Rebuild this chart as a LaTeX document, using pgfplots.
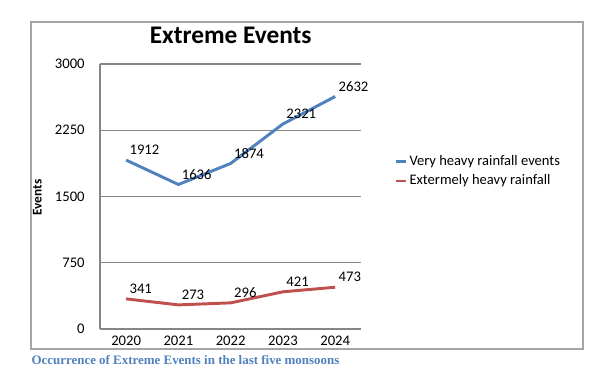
\documentclass[border=0pt]{standalone}
\usepackage{pgfplots}
\pgfplotsset{compat=1.18}
\usepackage{fontspec}
\setmainfont{Carlito}
\newfontfamily\capfont{Liberation Serif}
\definecolor{blueline}{RGB}{79,129,189}
\definecolor{redline}{RGB}{192,80,77}
\definecolor{gridgray}{RGB}{134,134,134}
\definecolor{framegray}{RGB}{165,165,165}
\definecolor{capblue}{RGB}{79,129,189}
\begin{document}
\begin{tikzpicture}[x=1pt,y=1pt]
\path[use as bounding box] (0,0) rectangle (450,279);
\draw[framegray, line width=0.9pt] (23.25,17.25) rectangle (437.25,262.5);
\begin{axis}[
  at={(75pt,32.25pt)}, anchor=south west,
  scale only axis, width=196pt, height=198.75pt,
  xmin=-0.5, xmax=4.5, ymin=0, ymax=3000,
  xtick={0,1,2,3,4}, xticklabels={2020,2021,2022,2023,2024},
  ytick={0,750,1500,2250,3000},
  axis x line=bottom, axis y line=left,
  axis line style={-, draw=gridgray, line width=0.8pt},
  ymajorgrids, grid style={gridgray, line width=0.8pt},
  major tick length=0pt,
  tick label style={font=\fontsize{11}{12}\selectfont},
  /pgf/number format/assume math mode=true,
  /pgf/number format/1000 sep={},
  xticklabel style={yshift=-2pt},
  yticklabel style={xshift=-8pt},
  nodes near coords,
  every node near coord/.append style={anchor=west, inner sep=0pt, xshift=1.5pt, yshift=7.5pt, font=\fontsize{11}{12}\selectfont, text=black},
  legend style={at={(1.132,0.596)}, anchor=west, draw=none, fill=none, inner sep=0pt,
    font=\fontsize{10.9}{12.5}\selectfont, cells={anchor=west}, row sep=0pt,
    nodes={inner sep=2.6pt}},
  legend image code/.code={\fill[#1, draw=none] (0pt,-0.8pt) rectangle (7.5pt,0.8pt);},
  clip=false,
]
\addplot[color=blueline, line width=2.2pt] coordinates {(0,1912) (1,1636) (2,1874) (3,2321) (4,2632)};
\addlegendentry{Very heavy rainfall events}
\addplot[color=redline, line width=2.2pt] coordinates {(0,341) (1,273) (2,296) (3,421) (4,473)};
\addlegendentry{Extermely heavy rainfall}
\end{axis}
\node[font=\bfseries\fontsize{19}{22}\selectfont] at (173,252.75) {Extreme Events};
\node[font=\bfseries\fontsize{10}{12}\selectfont, rotate=90] at (28,131) {Events};
\node[anchor=west, inner sep=0pt, font=\capfont\bfseries\fontsize{9.7}{11}\selectfont, text=capblue] at (23.5,9) {Occurrence of Extreme Events in the last five monsoons};
\end{tikzpicture}
\end{document}
